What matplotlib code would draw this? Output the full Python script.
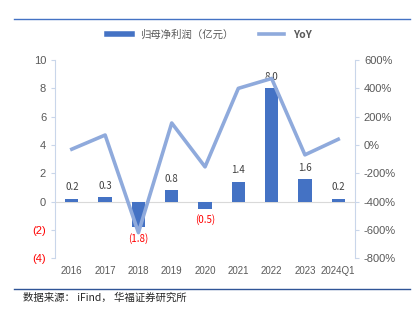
import matplotlib.pyplot as plt
from matplotlib.lines import Line2D

plt.rcParams['font.family'] = ['Noto Sans CJK SC', 'DejaVu Sans']

# données
years = ['2016', '2017', '2018', '2019', '2020', '2021', '2022', '2023', '2024Q1']
profit = [0.2, 0.3, -1.8, 0.8, -0.5, 1.4, 8.0, 1.6, 0.2]
yoy = [-30, 70, -620, 155, -155, 400, 470, -70, 40]
left_ticks = [10, 8, 6, 4, 2, 0, -2, -4]
right_ticks = [600, 400, 200, 0, -200, -400, -600, -800]

bar_color = '#4472C4'
line_color = '#8FAADC'
spine_color = '#C9D6EA'
grey = '#595959'
red = '#FF0000'
num_font = ['Liberation Sans', 'DejaVu Sans']

fig = plt.figure(figsize=(4.18, 3.23), dpi=100)
ax = fig.add_axes([0.132, 0.201, 0.717, 0.613])
x = list(range(len(years)))

ax.bar(x, profit, width=0.4, color=bar_color, zorder=2)
ax.axhline(0, color='#D9D9D9', lw=0.8, zorder=1)
ax.set_ylim(-4, 10)
ax.set_xlim(-0.5, 8.5)
ax.set_yticks(left_ticks)
ax.set_yticklabels([str(t) if t >= 0 else '(%d)' % -t for t in left_ticks])
for lab, t in zip(ax.get_yticklabels(), left_ticks):
    lab.set_color(red if t < 0 else grey)
    lab.set_family(num_font)
ax.set_xticks(x)
ax.set_xticklabels(years)
for lab in ax.get_xticklabels():
    lab.set_family(num_font)
ax.tick_params(axis='x', length=0, labelsize=7, labelcolor=grey, pad=6)
ax.tick_params(axis='y', labelsize=8, color=spine_color, length=3)

for s in ['top', 'right', 'bottom']:
    ax.spines[s].set_visible(False)
ax.spines['left'].set_color(spine_color)

# étiquettes des barres
for xi, v in zip(x, profit):
    if v >= 0:
        ax.text(xi, v + 0.45, '%.1f' % v, ha='center', va='bottom', fontsize=7, color='#404040')
    else:
        ax.text(xi, v - 0.4, '(%.1f)' % -v, ha='center', va='top', fontsize=7, color=red)

ax2 = ax.twinx()
ax2.plot(x, yoy, color=line_color, lw=2.6, zorder=3)
ax2.set_ylim(-800, 600)
ax2.set_yticks(right_ticks)
ax2.set_yticklabels(['%d%%' % t for t in right_ticks])
for lab in ax2.get_yticklabels():
    lab.set_family(num_font)
ax2.tick_params(axis='y', labelsize=8, labelcolor=grey, color=spine_color, length=3)
for s in ['top', 'left', 'bottom']:
    ax2.spines[s].set_visible(False)
ax2.spines['right'].set_color(spine_color)

# légende
handles = [Line2D([], [], color=bar_color, lw=4), Line2D([], [], color=line_color, lw=2.6)]
leg = fig.legend(handles, ['归母净利润（亿元）', 'YoY'], loc='center', bbox_to_anchor=(0.5, 0.893),
                 ncol=2, frameon=False, fontsize=7.5, labelcolor=grey, handlelength=2.4,
                 columnspacing=2.5)
leg.get_texts()[1].set_fontweight('bold')

# lignes de cadre et source
fig.add_artist(Line2D([0.034, 0.98], [0.941, 0.941], color='#4472C4', lw=1))
fig.add_artist(Line2D([0.034, 0.98], [0.105, 0.105], color='#2F5597', lw=1))
fig.text(0.055, 0.077, '数据来源： iFind， 华福证券研究所', fontsize=7.5, color='#262626',
         style='italic', va='center')

fig.savefig('out.png', dpi=100)
